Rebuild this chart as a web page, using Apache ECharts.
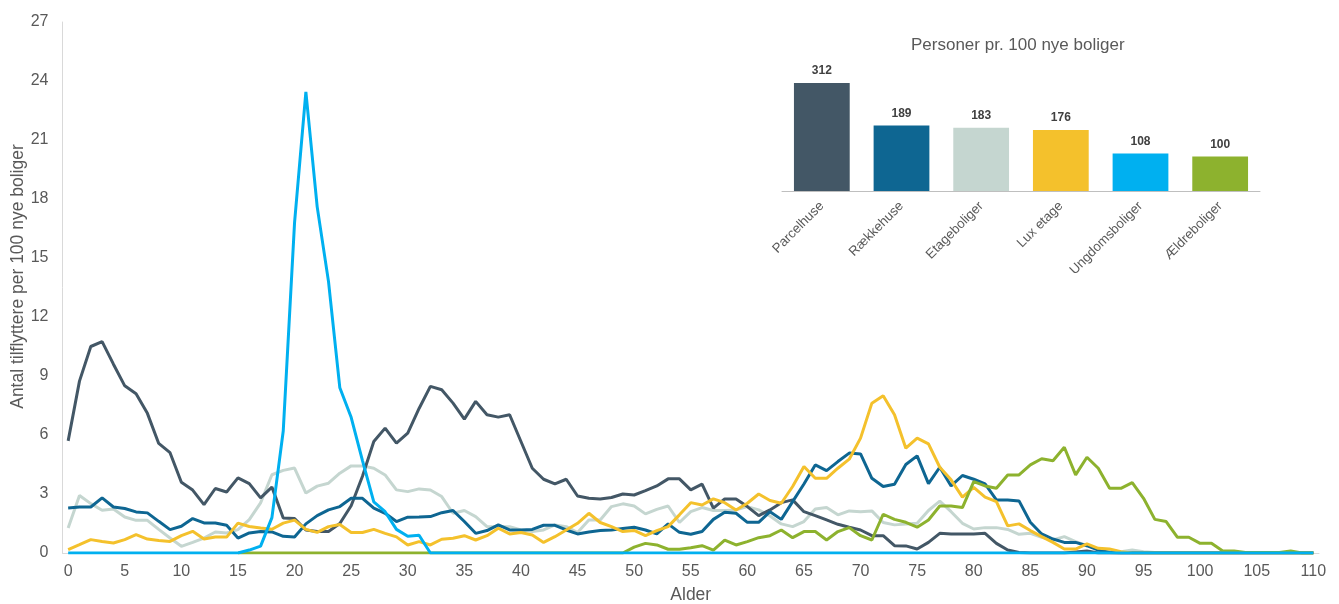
<!DOCTYPE html>
<html>
<head>
<meta charset="utf-8">
<script src="https://cdn.jsdelivr.net/npm/echarts@6/dist/echarts.min.js"></script>
<style>
html,body{margin:0;padding:0;background:#fff;overflow:hidden;}
#c{width:1339px;height:604px;}
</style>
</head>
<body>
<div id="c"></div>
<script>
const ages = Array.from({length:111},(_,i)=>String(i));

const parcelhuse = [5.7,8.74,10.5,10.75,9.6,8.5,8.1,7.1,5.57,5.1,
3.6,3.2,2.46,3.28,3.1,3.82,3.53,2.8,3.35,1.78,
1.75,1.17,1.09,1.09,1.5,2.4,3.9,5.67,6.35,5.59,
6.1,7.35,8.47,8.3,7.62,6.81,7.71,7.03,6.91,7.03,
5.67,4.31,3.75,3.51,3.75,2.9,2.78,2.75,2.82,3.0,
2.95,3.17,3.41,3.77,3.77,3.21,3.5,2.28,2.75,2.75,
2.36,1.9,2.19,2.56,2.7,2.1,1.9,1.68,1.46,1.31,
1.17,0.88,0.88,0.37,0.36,0.2,0.54,1.0,0.97,0.97,
0.97,1.0,0.49,0.15,0.03,0,0,0,0,0.05,
0.1,0,0,0,0,0,0,0,0,0,
0,0,0,0,0,0,0,0,0,0,0];

const raekkehuse = [2.29,2.34,2.34,2.8,2.34,2.26,2.09,2.04,1.61,1.19,
1.36,1.75,1.53,1.53,1.41,0.76,1.02,1.09,1.07,0.85,
0.81,1.48,1.9,2.19,2.36,2.78,2.78,2.28,2.02,1.6,
1.82,1.83,1.85,2.05,2.16,1.6,1.0,1.14,1.43,1.17,
1.17,1.2,1.41,1.41,1.17,0.97,1.07,1.14,1.17,1.24,
1.31,1.17,0.97,1.48,1.05,0.95,1.09,1.71,2.07,2.02,
1.56,1.56,2.1,1.71,2.61,3.51,4.48,4.19,4.65,5.08,
5.04,3.8,3.38,3.5,4.5,4.94,3.53,4.36,3.41,3.94,
3.75,3.51,2.7,2.7,2.65,1.56,0.97,0.71,0.54,0.54,
0.37,0.15,0.03,0,0,0,0,0,0,0,
0,0,0,0,0,0,0,0,0,0,0];

const etageboliger = [1.27,2.92,2.51,2.17,2.24,1.83,1.66,1.66,1.2,0.76,
0.34,0.54,0.76,1.07,1.02,1.19,1.7,2.55,3.98,4.2,
4.32,3.05,3.4,3.55,4.06,4.43,4.43,4.31,3.97,3.21,
3.12,3.26,3.2,2.87,2.02,2.16,1.85,1.34,1.34,1.34,
1.17,1.09,1.17,1.43,1.34,1.04,1.68,1.68,2.36,2.5,
2.39,1.99,2.22,2.39,1.55,2.1,2.31,2.16,2.16,2.19,
2.36,2.19,1.88,1.48,1.34,1.6,2.24,2.31,1.94,2.14,
2.1,2.14,1.55,1.43,1.48,1.51,2.16,2.64,2.1,1.51,
1.22,1.29,1.29,1.2,0.95,1.0,0.8,0.66,0.83,0.58,
0.37,0.2,0.12,0.07,0.15,0.07,0.03,0.02,0.02,0.02,
0.02,0.02,0.02,0.02,0.02,0.02,0.02,0.02,0.02,0.02,0.02];

const luxEtage = [0.17,0.42,0.68,0.59,0.51,0.68,0.93,0.71,0.63,0.59,
0.88,1.1,0.71,0.81,0.81,1.52,1.35,1.27,1.21,1.52,
1.67,1.2,1.05,1.34,1.45,1.04,1.04,1.2,1.0,0.82,
0.41,0.58,0.41,0.7,0.75,0.88,0.66,0.88,1.26,0.97,
1.04,0.92,0.54,0.83,1.17,1.51,2.02,1.55,1.34,1.09,
1.15,0.88,1.14,1.34,1.94,2.56,2.44,2.75,2.56,2.19,
2.53,3.0,2.67,2.53,3.38,4.4,3.8,3.8,4.31,4.77,
5.84,7.62,8.0,7.03,5.33,5.84,5.55,4.36,3.72,2.84,
3.34,2.84,2.61,1.38,1.48,1.14,0.83,0.54,0.2,0.2,
0.46,0.24,0.2,0.07,0,0,0,0,0,0,
0,0,0,0,0,0,0,0,0,0,0];

const ungdomsboliger = [0,0,0,0,0,0,0,0,0,0,
0,0,0,0,0,0,0.15,0.35,1.8,6.2,
16.8,23.45,17.6,13.8,8.4,6.9,4.7,2.6,2.1,1.2,
0.85,0.9,0,0,0,0,0,0,0,0,
0,0,0,0,0,0,0,0,0,0,
0,0,0,0,0,0,0,0,0,0,
0,0,0,0,0,0,0,0,0,0,
0,0,0,0,0,0,0,0,0,0,
0,0,0,0,0,0,0,0,0,0,
0,0,0,0,0,0,0,0,0,0,
0,0,0,0,0,0,0,0,0,0,0];

const aeldreboliger = [null,null,null,null,null,null,null,null,null,null,
null,null,null,null,null,0,0,0,0,0,
0,0,0,0,0,0,0,0,0,0,
0,0,0,0,0,0,0,0,0,0,
0,0,0,0,0,0,0,0,0,0,
0.3,0.49,0.41,0.19,0.19,0.27,0.37,0.15,0.66,0.41,
0.58,0.78,0.88,1.17,0.78,1.09,1.09,0.66,1.09,1.29,
0.88,0.66,1.97,1.71,1.56,1.31,1.68,2.39,2.39,2.31,
3.63,3.41,3.29,3.97,3.97,4.48,4.79,4.69,5.38,3.97,
4.87,4.31,3.29,3.29,3.58,2.78,1.71,1.6,0.8,0.8,
0.49,0.49,0.1,0.1,0.02,0.02,0.02,0.02,0.1,0,0];

const barCategories = ['Parcelhuse','Rækkehuse','Etageboliger','Lux etage','Ungdomsboliger','Ældreboliger'];
const barValues = [312,189,183,176,108,100];
const yTicks = {min:0, max:27, interval:3};

const colors = {
  'Parcelhuse':'#435766',
  'Rækkehuse':'#0e6692',
  'Etageboliger':'#c5d6d0',
  'Lux etage':'#f4c12c',
  'Ungdomsboliger':'#00b0f0',
  'Ældreboliger':'#8db22e'
};

const font = 'Liberation Sans, Arial, sans-serif';
const chart = echarts.init(document.getElementById('c'), null, {renderer:'canvas'});

function lineSeries(name, data, z){
  return {name, type:'line', xAxisIndex:0, yAxisIndex:0, data, symbol:'none',
    z, lineStyle:{width:3, color:colors[name]}, itemStyle:{color:colors[name]}};
}

chart.setOption({
  animation:false,
  textStyle:{fontFamily:font},
  title:{text:'Personer pr. 100 nye boliger', left:906, top:32,
    textStyle:{fontSize:17, fontWeight:'normal', color:'#595959', fontFamily:font}},
  grid:[
    {left:62.5, right:20, top:22, bottom:51, containLabel:false, outerBoundsMode:'none'},
    {left:782, width:478, top:83, height:108, containLabel:false, outerBoundsMode:'none'}
  ],
  xAxis:[
    {gridIndex:0, type:'category', data:ages, boundaryGap:true,
     name:'Alder', nameLocation:'middle', nameGap:33, nameMoveOverlap:false,
     nameTextStyle:{fontSize:17.5, color:'#595959', fontFamily:font},
     axisLine:{show:true, lineStyle:{color:'#d9d9d9', width:1}},
     axisTick:{show:false},
     axisLabel:{interval:4, fontSize:16, color:'#595959', margin:11, fontFamily:font},
     splitLine:{show:false}},
    {gridIndex:1, type:'category', data:barCategories,
     axisLine:{show:true, lineStyle:{color:'#bfbfbf', width:1}},
     axisTick:{show:false},
     axisLabel:{rotate:45, fontSize:13.3, color:'#595959', margin:13, interval:0, fontFamily:font},
     splitLine:{show:false}}
  ],
  yAxis:[
    {gridIndex:0, type:'value', min:yTicks.min, max:yTicks.max, interval:yTicks.interval,
     name:'Antal tilflyttere per 100 nye boliger', nameLocation:'middle', nameGap:35, nameRotate:90,
     nameMoveOverlap:false,
     nameTextStyle:{fontSize:17.5, color:'#595959', fontFamily:font, padding:[0,0,0,22]},
     axisLine:{show:true, lineStyle:{color:'#d9d9d9', width:1}},
     axisTick:{show:false},
     axisLabel:{fontSize:16, color:'#595959', margin:14, fontFamily:font},
     splitLine:{show:false}},
    {gridIndex:1, type:'value', min:0, max:312, show:false, splitLine:{show:false}}
  ],
  series:[
    lineSeries('Etageboliger', etageboliger, 2),
    lineSeries('Parcelhuse', parcelhuse, 3),
    lineSeries('Rækkehuse', raekkehuse, 4),
    lineSeries('Lux etage', luxEtage, 5),
    lineSeries('Ældreboliger', aeldreboliger, 6),
    lineSeries('Ungdomsboliger', ungdomsboliger, 7),
    {type:'bar', xAxisIndex:1, yAxisIndex:1, barWidth:'70%',
     data: barValues.map((v,i)=>({value:v, itemStyle:{color:colors[barCategories[i]]}})),
     label:{show:true, position:'top', distance:6, fontSize:12, fontWeight:'bold', color:'#404040', fontFamily:font}}
  ]
});
</script>
</body>
</html>
